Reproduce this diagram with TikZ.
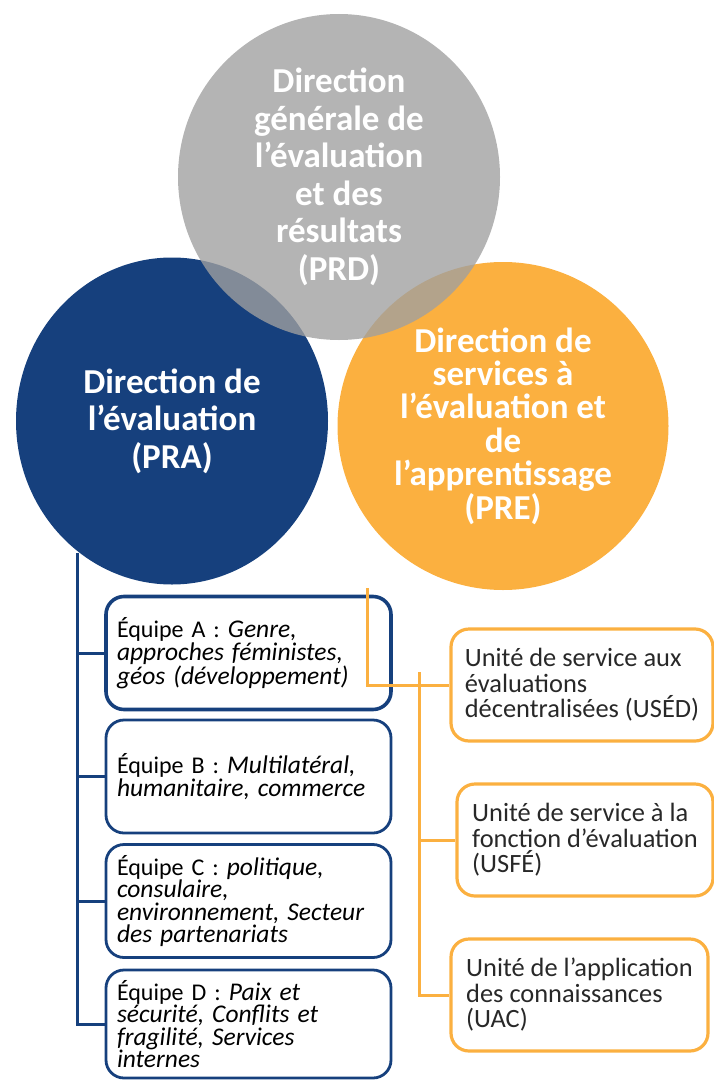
\documentclass[tikz,border=0pt]{standalone}
\usepackage{fontspec}
\setmainfont{Carlito}
\usetikzlibrary{shapes.geometric}

\definecolor{praBlue}{RGB}{22,64,125}
\definecolor{preOrange}{RGB}{251,176,64}
\definecolor{prdGrey}{RGB}{160,160,160}
\definecolor{unitText}{RGB}{40,40,40}

\newcommand{\theme}[1]{{\fontsize{25.5}{22.6}\selectfont\itshape #1}}

\begin{document}
\begin{tikzpicture}[x=1pt, y=-1pt,
    direction/.style={ellipse, inner sep=0pt, text=white, align=center,
        font=\bfseries\fontsize{35}{37.5}\selectfont},
    teambox/.style={draw=praBlue, line width=2.8pt, rounded corners=18pt,
        minimum width=285pt, minimum height=113pt, text width=263pt,
        inner xsep=11pt, align=left, font=\fontsize{24}{22.6}\selectfont},
    unitbox/.style={draw=preOrange, line width=3.2pt, rounded corners=18pt,
        minimum height=112pt, align=left, text=unitText,
        font=\fontsize{26.4}{25.5}\selectfont},
    branch/.style={line width=3pt}]

    \useasboundingbox (0,0) rectangle (713,1081);

    % The three directions
	\node[direction, fill=praBlue, minimum width=312pt, minimum height=327pt] (pra) at (172,421)
        {Direction de\\l’évaluation\\(PRA)};
	\node[direction, fill=preOrange, minimum width=331pt, minimum height=328pt,
        font=\bfseries\fontsize{35}{33.4}\selectfont] (pre) at (503,426)
        {Direction de\\services à\\l’évaluation et\\de\\l’apprentissage\\(PRE)};
	\node[direction, fill=prdGrey, fill opacity=0.79, text opacity=1,
        minimum width=322pt, minimum height=326pt] (prd) at (339,177)
        {Direction\\générale de\\l’évaluation\\et des\\résultats\\(PRD)};

    % Teams of PRA
	\node[teambox, line width=3.6pt] (teamA) at (248.5,653)
        {Équipe A : \theme{Genre,\\approches féministes,\\géos (développement)}};
	\node[teambox] (teamB) at (248.5,776.5)
        {Équipe B : \theme{Multilatéral,\\humanitaire, commerce}};
	\node[teambox] (teamC) at (248.5,901)
        {Équipe C : \theme{politique,\\consulaire,\\environnement, Secteur\\des partenariats}};
	\node[teambox, minimum height=108pt] (teamD) at (248.5,1024)
        {Équipe D : \theme{Paix et\\sécurité, Conflits et\\fragilité, Services\\internes}};

    % Units of PRE
	\node[unitbox, minimum width=262pt] (used) at (582,685)
        {Unité de service aux\\évaluations\\décentralisées (USÉD)};
	\node[unitbox, minimum width=256pt] (usfe) at (585,840)
        {Unité de service à la\\fonction d’évaluation\\(USFÉ)};
	\node[unitbox, minimum width=257pt] (uac) at (579.5,995)
        {Unité de l’application\\des connaissances\\(UAC)};

    % Blue tree
	\coordinate (praFoot) at (77,553);
	\draw[branch, praBlue] (praFoot) |- (teamD.west);
	\draw[branch, praBlue] (praFoot |- teamA.west) -- (teamA.west);
	\draw[branch, praBlue] (praFoot |- teamB.west) -- (teamB.west);
	\draw[branch, praBlue] (praFoot |- teamC.west) -- (teamC.west);

    % Orange tree
	\coordinate (preStub) at (367,588);
	\coordinate (unitsTop) at (419,672);
	\draw[branch, preOrange] (preStub) |- (used.west);
	\draw[branch, preOrange] (unitsTop) |- (uac.west);
	\draw[branch, preOrange] (unitsTop |- usfe.west) -- (usfe.west);

\end{tikzpicture}
\end{document}
